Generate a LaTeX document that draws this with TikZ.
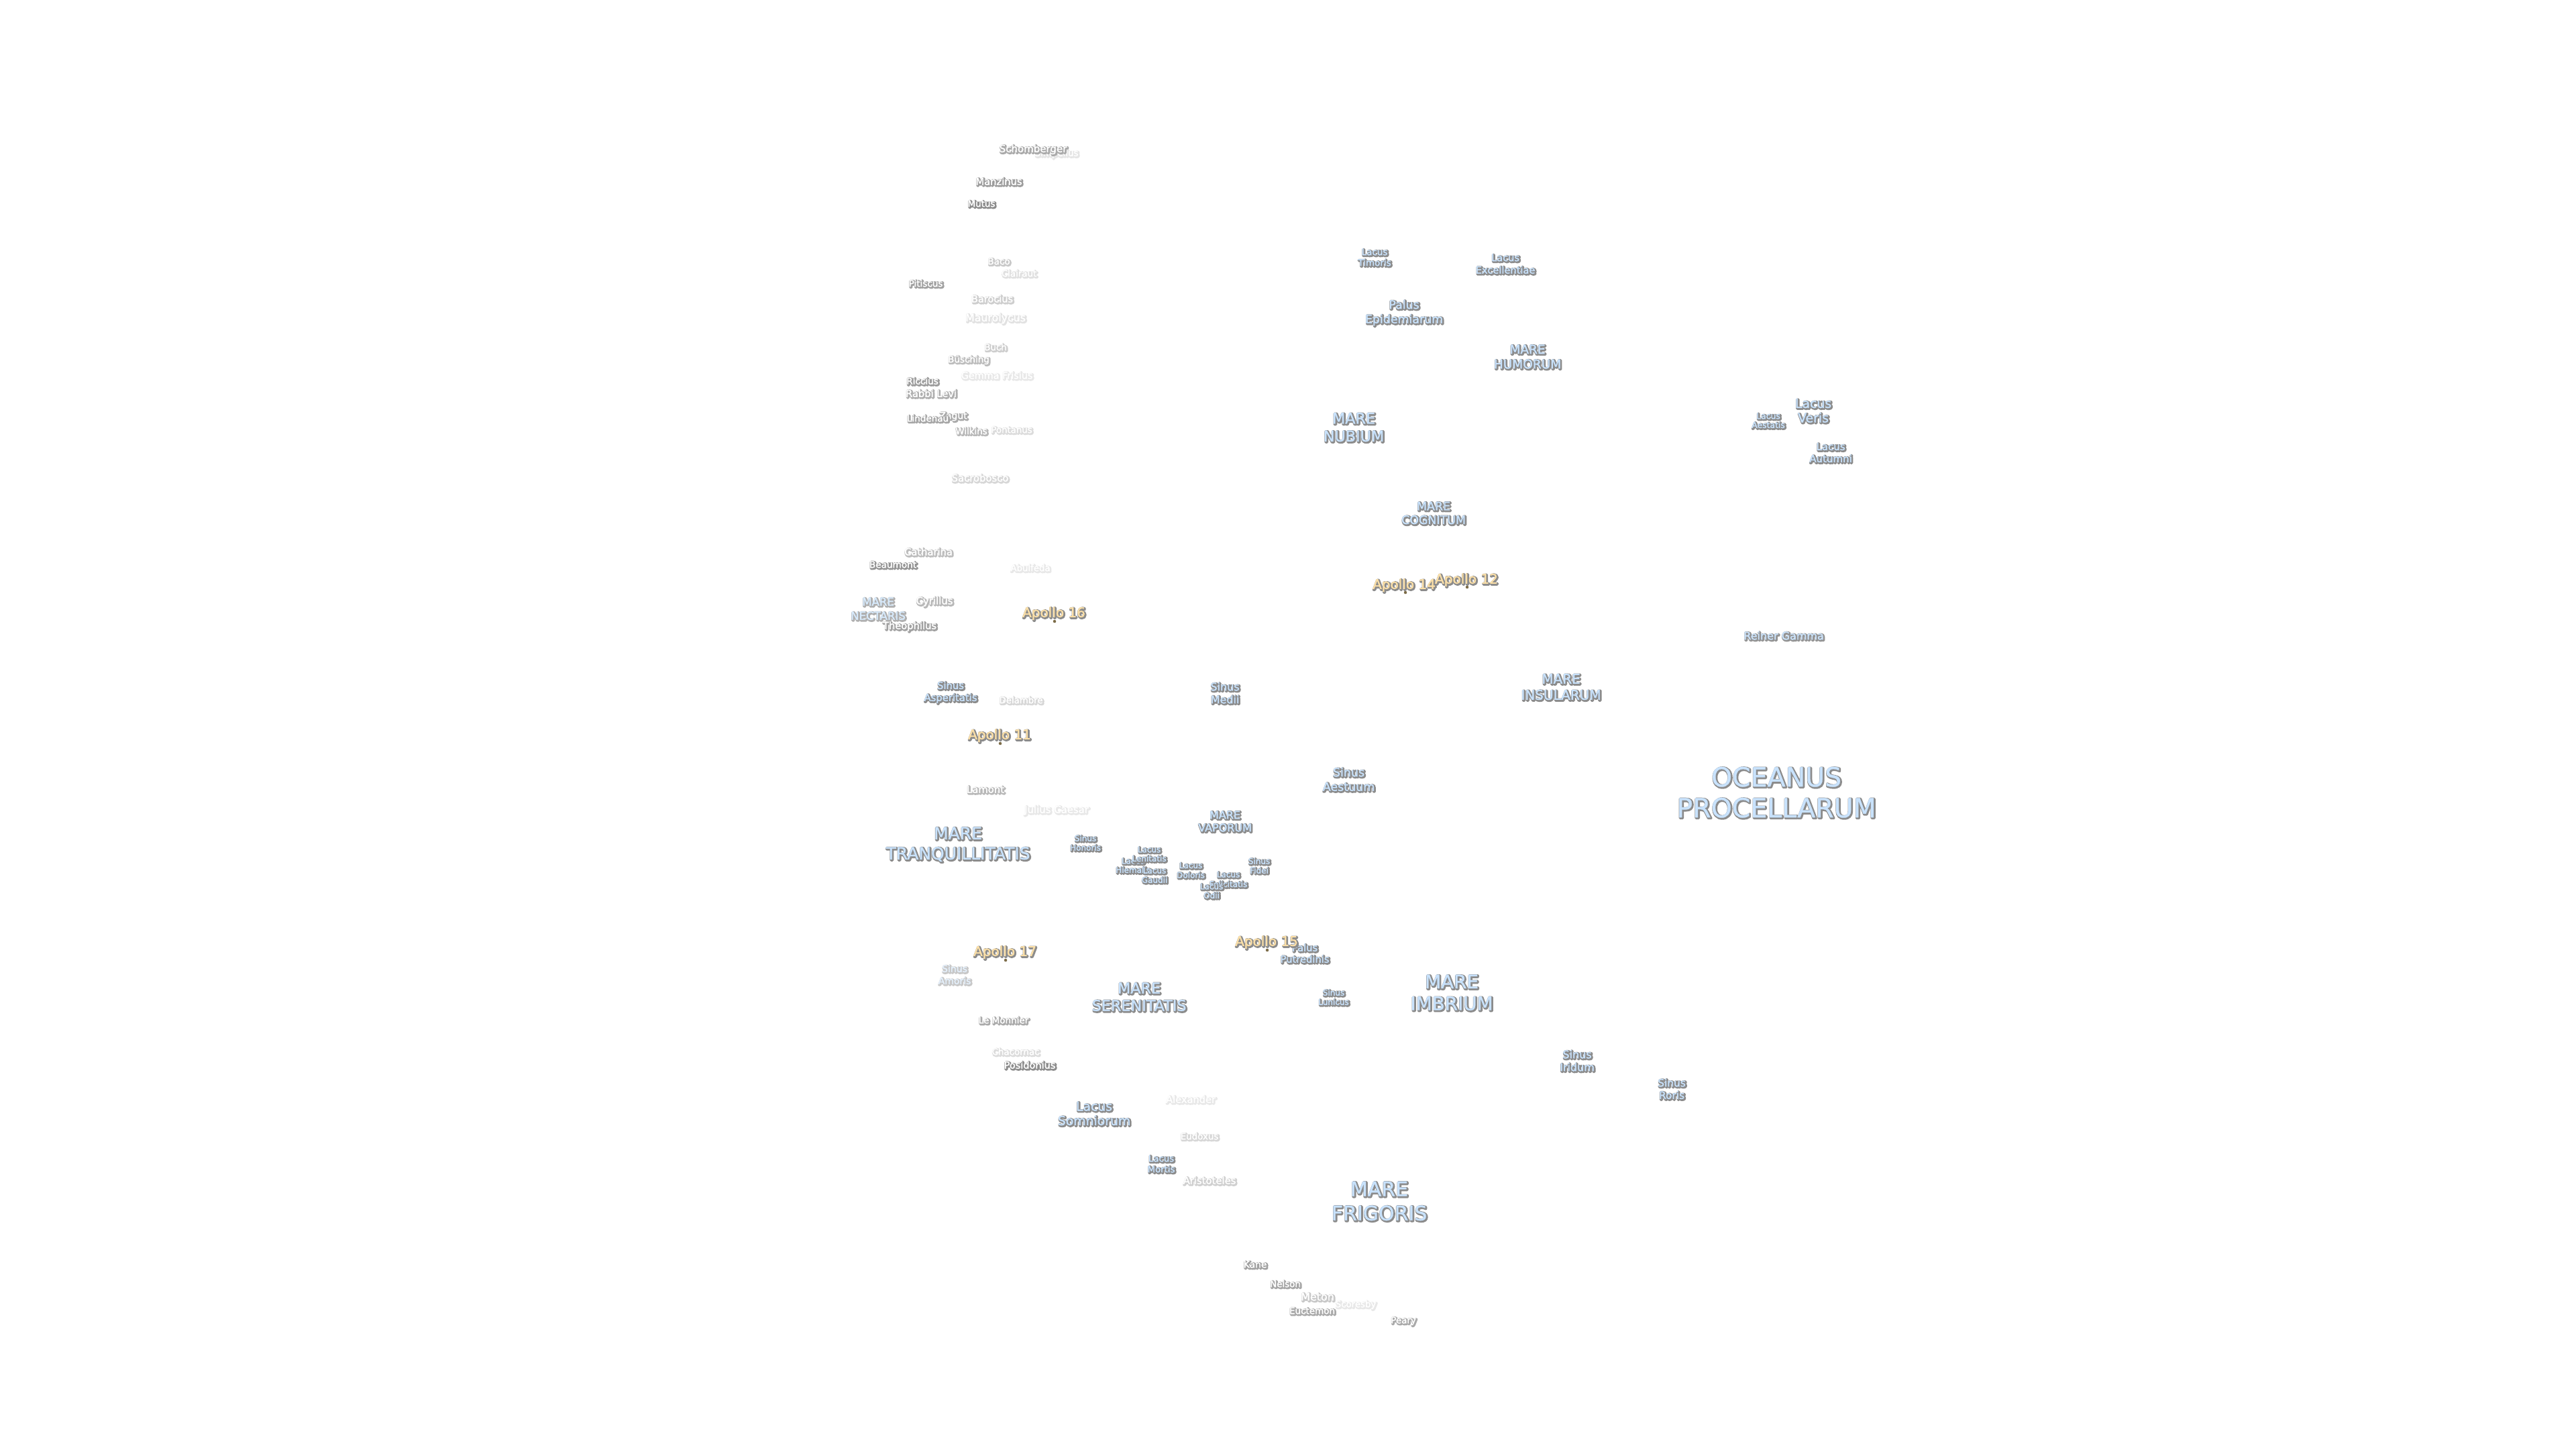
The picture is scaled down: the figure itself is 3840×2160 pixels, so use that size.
\documentclass[tikz,border=0pt]{standalone}
\usepackage{fontspec}
\setmainfont{DejaVu Sans}
\definecolor{seafill}{HTML}{C8E2FC}
\definecolor{apollofill}{HTML}{FCE0A8}
\definecolor{craterfill}{HTML}{FFFFFF}
\definecolor{dotcol}{HTML}{7C6C48}
\newcommand\moon[8]{%
  \pgfmathsetmacro\mF{100*pow(#6/100,0.7)}%
  \pgfmathsetmacro\mC{90*\mF/100}%
  \pgfmathsetmacro\mG{1-0.45*\mF/100}%
  \colorlet{mdark}{black!\mC!white}%
  \colorlet{mtop}{#7!\mF!white}%
  \pgfmathsetmacro\mY{#3+0.15*#4}%
  \node[moonlabel] (#1) at (#2,\mY) {%
    \fontsize{#4}{#5}\selectfont
    \def\moontext{\begin{tabular}{@{}c@{}}#8\end{tabular}}%
    \rlap{\kern1.2pt\raisebox{-1.2pt}[0pt][0pt]{\textcolor{mdark}{%
      \special{pdf:code 2 Tr 3.6 w 1 j 1 J \mG\space G}\moontext\special{pdf:code 0 Tr 1 w 0 j 0 J}}}}%
    \textcolor{mtop}{%
      \special{pdf:code 2 Tr 0.3 w 1 j 1 J}\moontext\special{pdf:code 0 Tr 1 w 0 j 0 J}}};}
\tikzset{
  moonlabel/.style={inner sep=0pt,outer sep=0pt,anchor=center},
  landingdot/.style={circle,fill=dotcol,draw=none,inner sep=0pt,minimum size=4.5pt}
}
\begin{document}
\begin{tikzpicture}[x=1pt,y=-1pt]
\path[use as bounding box,fill=white] (0,0) rectangle (3840,2160);
% landing site dots
\node[landingdot] (d16) at (1572,926) {};
\node[landingdot] (d11) at (1491,1108) {};
\node[landingdot] (d14) at (2095,883) {};
\node[landingdot] (d12) at (2187,875) {};
\node[landingdot] (d15) at (1889,1416) {};
\node[landingdot] (d17) at (1499,1431) {};
% craters, south
\moon{simpelius}{1575}{227.5}{13.4}{16}{12}{craterfill}{Simpelius}
\moon{schomberger}{1540}{221}{15}{18}{65}{craterfill}{Schomberger}
\moon{manzinus}{1489}{270}{14.7}{17}{80}{craterfill}{Manzinus}
\moon{mutus}{1463}{303}{13.4}{16}{100}{craterfill}{Mutus}
\moon{baco}{1489}{389}{13.5}{16}{35}{craterfill}{Baco}
\moon{clairaut}{1519}{407}{13.4}{16}{15}{craterfill}{Clairaut}
\moon{pitiscus}{1380}{422}{13.5}{16}{75}{craterfill}{Pitiscus}
\moon{barocius}{1479}{445}{14.5}{17}{30}{craterfill}{Barocius}
\moon{maurolycus}{1484}{473}{15.8}{18}{14}{craterfill}{Maurolycus}
\moon{buch}{1484}{517}{13.3}{16}{30}{craterfill}{Buch}
\moon{busching}{1444}{535}{13.5}{16}{45}{craterfill}{Büsching}
\moon{gemma}{1486}{559}{14.4}{17}{10}{craterfill}{Gemma Frisius}
\moon{riccius}{1375}{567.5}{13.6}{16}{80}{craterfill}{Riccius}
\moon{rabbi}{1388}{586}{14.7}{17}{60}{craterfill}{Rabbi Levi}
\moon{zagut}{1421}{619}{14}{16}{65}{craterfill}{Zagut}
\moon{lindenau}{1383}{623}{13.5}{16}{70}{craterfill}{Lindenau}
\moon{wilkins}{1448}{642}{13.4}{16}{50}{craterfill}{Wilkins}
\moon{pontanus}{1508}{640}{13.3}{16}{18}{craterfill}{Pontanus}
\moon{sacrobosco}{1461}{712}{14.8}{17}{22}{craterfill}{Sacrobosco}
\moon{catharina}{1384}{822}{14.7}{17}{45}{craterfill}{Catharina}
\moon{beaumont}{1331}{841}{13.6}{16}{90}{craterfill}{Beaumont}
\moon{abulfeda}{1536}{846}{13.3}{16}{10}{craterfill}{Abulfeda}
\moon{nectaris}{1309}{906.5}{16.6}{21}{60}{seafill}{MARE\\NECTARIS}
\moon{cyrillus}{1393}{895}{14.9}{17}{50}{craterfill}{Cyrillus}
\moon{theophilus}{1356}{932}{14.7}{17}{75}{craterfill}{Theophilus}
\moon{delambre}{1522}{1043}{13.3}{16}{22}{craterfill}{Delambre}
\moon{lamont}{1469}{1176}{14.8}{17}{50}{craterfill}{Lamont}
\moon{julius}{1575}{1206}{14.9}{17}{10}{craterfill}{Julius Caesar}
\moon{amoris}{1423}{1452}{14}{18}{35}{seafill}{Sinus\\Amoris}
\moon{monnier}{1496}{1520}{13.5}{16}{65}{craterfill}{Le Monnier}
\moon{chacornac}{1514}{1567}{13.4}{16}{18}{craterfill}{Chacornac}
\moon{posidonius}{1535}{1587}{14.5}{17}{100}{craterfill}{Posidonius}
\moon{alexander}{1775}{1638}{14.6}{17}{10}{craterfill}{Alexander}
\moon{eudoxus}{1788}{1693}{13.4}{16}{22}{craterfill}{Eudoxus}
\moon{aristoteles}{1803}{1759}{14.8}{17}{28}{craterfill}{Aristoteles}
\moon{kane}{1871}{1884}{13.9}{16}{75}{craterfill}{Kane}
\moon{nelson}{1916}{1913}{13.4}{16}{70}{craterfill}{Nelson}
\moon{scoresby}{2021}{1943}{13.3}{16}{10}{craterfill}{Scoresby}
\moon{meton}{1964}{1932}{16}{19}{35}{craterfill}{Meton}
\moon{euctemon}{1956}{1953}{13.5}{16}{65}{craterfill}{Euctemon}
\moon{peary}{2092}{1967}{13.4}{16}{65}{craterfill}{Peary}
\moon{reiner}{2659}{947}{16}{19}{90}{seafill}{Reiner Gamma}
% seas, lakes, bays
\moon{asperitatis}{1417}{1030}{14.8}{18}{100}{seafill}{Sinus\\Asperitatis}
\moon{tranquillitatis}{1428}{1256}{25}{30}{100}{seafill}{MARE\\TRANQUILLITATIS}
\moon{honoris}{1618}{1256}{12}{14}{100}{seafill}{Sinus\\Honoris}
\moon{vaporum}{1826}{1223.5}{16}{19}{100}{seafill}{MARE\\VAPORUM}
\moon{hiemalis}{1689}{1289.5}{12}{13.5}{100}{seafill}{Lacus\\Hiemalis}
\moon{lenitatis}{1713}{1272.5}{12}{13.5}{100}{seafill}{Lacus\\Lenitatis}
\moon{gaudii}{1721}{1304}{12}{14}{100}{seafill}{Lacus\\Gaudii}
\moon{doloris}{1775}{1296.5}{12}{14.5}{100}{seafill}{Lacus\\Doloris}
\moon{felicitatis}{1831}{1310}{12}{14.5}{100}{seafill}{Lacus\\Felicitatis}
\moon{odii}{1806}{1327.5}{12}{13.5}{100}{seafill}{Lacus\\Odii}
\moon{fidei}{1877}{1290}{12}{14}{100}{seafill}{Sinus\\Fidei}
\moon{serenitatis}{1698}{1485}{22.3}{26}{100}{seafill}{MARE\\SERENITATIS}
\moon{putredinis}{1945}{1420.5}{14.7}{17}{100}{seafill}{Palus\\Putredinis}
\moon{lunicus}{1988}{1486}{12}{14}{100}{seafill}{Sinus\\Lunicus}
\moon{somniorum}{1631}{1659}{18.8}{21.5}{100}{seafill}{Lacus\\Somniorum}
\moon{mortis}{1731}{1734}{13.3}{16}{100}{seafill}{Lacus\\Mortis}
\moon{frigoris}{2056}{1789}{30}{36}{100}{seafill}{MARE\\FRIGORIS}
\moon{timoris}{2049}{383}{13.5}{16}{100}{seafill}{Lacus\\Timoris}
\moon{excellentiae}{2244}{392.5}{14.6}{18.5}{100}{seafill}{Lacus\\Excellentiae}
\moon{epidemiarum}{2093}{464}{17.4}{21.5}{100}{seafill}{Palus\\Epidemiarum}
\moon{humorum}{2277}{531}{18.5}{22}{100}{seafill}{MARE\\HUMORUM}
\moon{nubium}{2018}{636}{22.3}{26.5}{100}{seafill}{MARE\\NUBIUM}
\moon{cognitum}{2137}{764}{17.4}{20.5}{100}{seafill}{MARE\\COGNITUM}
\moon{veris}{2703}{611.5}{18.9}{21.5}{100}{seafill}{Lacus\\Veris}
\moon{aestatis}{2636}{626.5}{12.4}{13.5}{100}{seafill}{Lacus\\Aestatis}
\moon{autumni}{2729}{674}{15}{18}{100}{seafill}{Lacus\\Autumni}
\moon{medii}{1826}{1032.5}{16}{19}{100}{seafill}{Sinus\\Medii}
\moon{insularum}{2327}{1023}{20}{24}{100}{seafill}{MARE\\INSULARUM}
\moon{aestuum}{2010.5}{1161}{17.5}{21.5}{100}{seafill}{Sinus\\Aestuum}
\moon{imbrium}{2164}{1478.5}{27.8}{32.5}{100}{seafill}{MARE\\IMBRIUM}
\moon{iridum}{2351}{1580.5}{16}{19}{100}{seafill}{Sinus\\Iridum}
\moon{roris}{2492}{1622.5}{15.4}{18.5}{100}{seafill}{Sinus\\Roris}
\moon{oceanus}{2648}{1180}{39.5}{46}{100}{seafill}{OCEANUS\\PROCELLARUM}
% landing sites
\moon{ap16}{1571}{912}{20}{24}{100}{apollofill}{Apollo 16}
\moon{ap11}{1490}{1094}{20}{24}{100}{apollofill}{Apollo 11}
\moon{ap14}{2093}{870}{20}{24}{100}{apollofill}{Apollo 14}
\moon{ap12}{2186}{862}{20}{24}{100}{apollofill}{Apollo 12}
\moon{ap15}{1888}{1402}{20}{24}{100}{apollofill}{Apollo 15}
\moon{ap17}{1498}{1417}{20}{24}{100}{apollofill}{Apollo 17}
\end{tikzpicture}
\end{document}
